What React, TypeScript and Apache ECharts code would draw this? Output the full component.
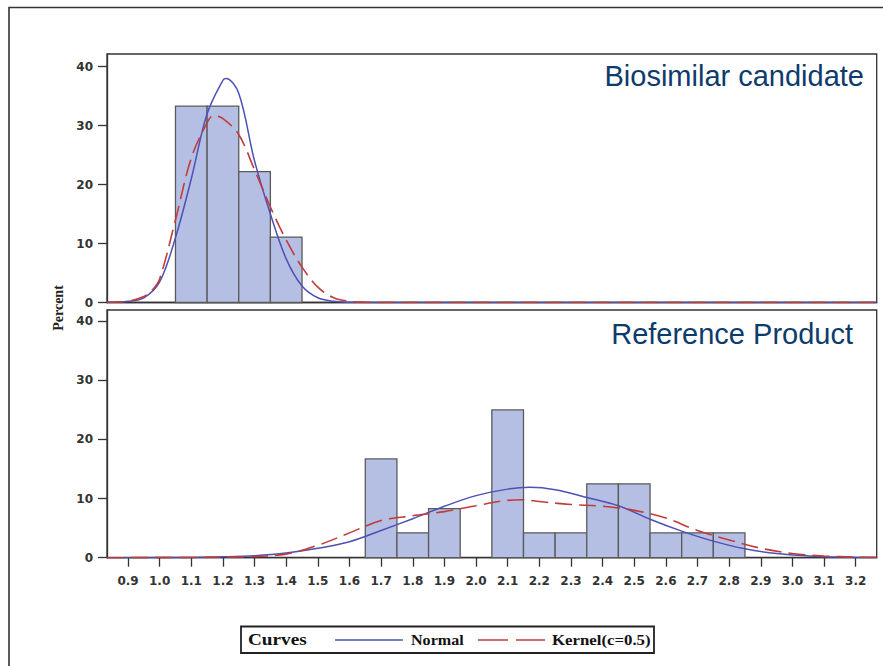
import React, { useEffect, useRef } from 'react';
import * as echarts from 'echarts';

// ---------- data ----------
const xTickValues = [0.9, 1.0, 1.1, 1.2, 1.3, 1.4, 1.5, 1.6, 1.7, 1.8, 1.9, 2.0, 2.1, 2.2, 2.3, 2.4, 2.5, 2.6, 2.7, 2.8, 2.9, 3.0, 3.1, 3.2];
const yTickValues = [0, 10, 20, 30, 40];
const BIN_WIDTH = 0.1;

const biosimilarBinMids = [1.1, 1.2, 1.3, 1.4];
const biosimilarPercent = [33.3, 33.3, 22.2, 11.1];

const referenceBinMids = [1.7, 1.8, 1.9, 2.0, 2.1, 2.2, 2.3, 2.4, 2.5, 2.6, 2.7, 2.8];
const referencePercent = [16.7, 4.2, 8.3, 0, 25, 4.2, 4.2, 12.5, 12.5, 4.2, 4.2, 4.2];

const biosimilarNormalX = [0.8336, 0.9, 0.95, 1.0, 1.05, 1.1, 1.15, 1.2, 1.21, 1.25, 1.3, 1.35, 1.4, 1.45, 1.5, 1.55, 1.6, 1.7, 3.2664];
const biosimilarNormalY = [0.05, 0.2, 0.8, 3.5, 11, 21, 32, 37.7, 38, 35.5, 24, 15, 7.4, 2.8, 0.8, 0.2, 0.05, 0, 0];

const biosimilarKernelX = [0.8336, 0.9, 0.95, 0.975, 1.0, 1.05, 1.1, 1.15, 1.17, 1.2, 1.25, 1.3, 1.35, 1.4, 1.45, 1.5, 1.55, 1.6, 1.65, 1.7, 3.2664];
const biosimilarKernelY = [0, 0.2, 1.0, 2.0, 4.0, 14, 24.5, 30.5, 31.7, 31.2, 28.5, 22.5, 16.2, 10.6, 6.0, 2.6, 0.8, 0.2, 0.05, 0, 0];

const referenceNormalX = [0.8336, 1.0, 1.1, 1.2, 1.3, 1.4, 1.5, 1.6, 1.7, 1.8, 1.9, 2.0, 2.1, 2.17, 2.25, 2.35, 2.45, 2.55, 2.65, 2.75, 2.85, 2.95, 3.05, 3.15, 3.2664];
const referenceNormalY = [0, 0.02, 0.05, 0.15, 0.35, 0.8, 1.6, 2.7, 4.6, 6.6, 8.7, 10.5, 11.6, 11.9, 11.5, 10.2, 8.8, 6.5, 4.5, 2.8, 1.5, 0.7, 0.3, 0.1, 0.02];

const referenceKernelX = [0.8336, 1.1, 1.2, 1.3, 1.4, 1.5, 1.6, 1.7, 1.8, 1.9, 2.0, 2.1, 2.15, 2.2, 2.3, 2.4, 2.5, 2.6, 2.7, 2.8, 2.9, 3.0, 3.1, 3.2, 3.2664];
const referenceKernelY = [0, 0.03, 0.08, 0.2, 0.6, 2.1, 4.2, 6.3, 7.1, 7.8, 8.8, 9.7, 9.8, 9.5, 9.0, 8.7, 8.0, 6.7, 4.6, 3.0, 1.6, 0.7, 0.3, 0.1, 0.03];

const panelTitles = ['Biosimilar candidate', 'Reference Product'];
const legendLabels = ['Curves', 'Normal', 'Kernel(c=0.5)'];

// ---------- styling ----------
const BAR_FILL = '#b4bfe3';
const BAR_STROKE = '#5a5a5a';
const NORMAL_COLOR = '#4d50b5';
const KERNEL_COLOR = '#c23b3b';
const AXIS_COLOR = '#333';
const TITLE_COLOR = '#0d3b6c';
const X_MIN = 0.8336;
const X_MAX = 3.2664;

const zip = (xs: number[], ys: number[]) => xs.map((x, i) => [x, ys[i]]);
const bins = (mids: number[], vals: number[]) =>
  mids.map((m, i) => [m - BIN_WIDTH / 2, m + BIN_WIDTH / 2, vals[i]]);

const renderBar = (params: any, api: any) => {
  const lo = api.value(0);
  const hi = api.value(1);
  const v = api.value(2);
  if (!v) return null;
  const p0 = api.coord([lo, v]);
  const p1 = api.coord([hi, 0]);
  return {
    type: 'rect',
    shape: { x: p0[0], y: p0[1], width: p1[0] - p0[0], height: p1[1] - p0[1] },
    style: { fill: BAR_FILL, stroke: BAR_STROKE, lineWidth: 1.3 },
  };
};

const labelFont = { fontFamily: 'DejaVu Sans', fontWeight: 'bold' as const, fontSize: 12, color: '#333' };

const makeYAxis = (gridIndex: number, max: number) => ({
  type: 'value',
  gridIndex,
  min: 0,
  max,
  axisLine: { show: true, lineStyle: { color: AXIS_COLOR, width: 1.3 } },
  axisTick: { show: true, length: 9, customValues: yTickValues, lineStyle: { color: AXIS_COLOR, width: 1.3 } },
  axisLabel: { ...labelFont, margin: 14, customValues: yTickValues, formatter: (v: number) => String(Math.round(v)) },
  splitLine: { show: false },
});

const lineSeries = (name: string, xs: number[], ys: number[], idx: number, dashed: boolean) => ({
  type: 'line',
  name,
  xAxisIndex: idx,
  yAxisIndex: idx,
  data: zip(xs, ys),
  smooth: 0.35,
  showSymbol: false,
  symbol: 'none',
  z: 5,
  lineStyle: dashed
    ? { color: KERNEL_COLOR, width: 1.6, type: [17, 7] }
    : { color: NORMAL_COLOR, width: 1.5 },
});

export default function App() {
  const ref = useRef<HTMLDivElement>(null);
  useEffect(() => {
    const chart = echarts.init(ref.current!, null, { renderer: 'svg' });
    const option: any = {
      animation: false,
      backgroundColor: '#fff',
      grid: [
        { left: 107, right: 6.3, top: 54, height: 248.5, show: true, borderColor: AXIS_COLOR, borderWidth: 1.3, containLabel: false },
        { left: 107, right: 6.3, top: 310, height: 247.7, show: true, borderColor: AXIS_COLOR, borderWidth: 1.3, containLabel: false },
      ],
      xAxis: [
        {
          type: 'value', gridIndex: 0, min: X_MIN, max: X_MAX,
          axisLine: { show: true, lineStyle: { color: AXIS_COLOR, width: 1.3 } },
          axisTick: { show: false }, axisLabel: { show: false }, splitLine: { show: false },
        },
        {
          type: 'value', gridIndex: 1, min: X_MIN, max: X_MAX,
          axisLine: { show: true, lineStyle: { color: AXIS_COLOR, width: 1.3 } },
          axisTick: { show: true, length: 9, customValues: xTickValues, lineStyle: { color: AXIS_COLOR, width: 1.3 } },
          axisLabel: { ...labelFont, margin: 17, customValues: xTickValues, formatter: (v: number) => v.toFixed(1) },
          splitLine: { show: false },
        },
      ],
      yAxis: [makeYAxis(0, 42.15), makeYAxis(1, 41.9)],
      series: [
        { type: 'custom', xAxisIndex: 0, yAxisIndex: 0, data: bins(biosimilarBinMids, biosimilarPercent), renderItem: renderBar, encode: { x: [0, 1], y: 2 }, z: 2 },
        { type: 'custom', xAxisIndex: 1, yAxisIndex: 1, data: bins(referenceBinMids, referencePercent), renderItem: renderBar, encode: { x: [0, 1], y: 2 }, z: 2 },
        lineSeries('Normal', biosimilarNormalX, biosimilarNormalY, 0, false),
        lineSeries('Kernel', biosimilarKernelX, biosimilarKernelY, 0, true),
        lineSeries('Normal', referenceNormalX, referenceNormalY, 1, false),
        lineSeries('Kernel', referenceKernelX, referenceKernelY, 1, true),
      ],
      graphic: [
        // outer frame (left + top)
        { type: 'polyline', z: 100, shape: { points: [[9, 666], [9, 7.5], [883, 7.5]] }, style: { stroke: '#333', lineWidth: 1.6, fill: 'none' } },
        // panel titles
        { type: 'text', z: 100, x: 864, y: 76, style: { text: panelTitles[0], fill: TITLE_COLOR, fontFamily: 'Liberation Sans', fontSize: 29, align: 'right', verticalAlign: 'middle' } },
        { type: 'text', z: 100, x: 853, y: 334, style: { text: panelTitles[1], fill: TITLE_COLOR, fontFamily: 'Liberation Sans', fontSize: 29, align: 'right', verticalAlign: 'middle' } },
        // y axis name
        { type: 'text', z: 100, x: 58, y: 308, rotation: Math.PI / 2, style: { text: 'Percent', fill: '#222', fontFamily: 'Liberation Serif', fontWeight: 'bold', fontSize: 14, align: 'center', verticalAlign: 'middle' } },
        // legend
        { type: 'rect', z: 100, shape: { x: 241, y: 626.5, width: 413, height: 26.5 }, style: { fill: '#fff', stroke: '#222', lineWidth: 1.8 } },
        { type: 'text', z: 101, x: 248, y: 640, scaleX: 1.2, style: { text: legendLabels[0], fill: '#111', fontFamily: 'Liberation Serif', fontWeight: 'bold', fontSize: 16, align: 'left', verticalAlign: 'middle' } },
        { type: 'line', z: 101, shape: { x1: 335, y1: 640, x2: 403, y2: 640 }, style: { stroke: NORMAL_COLOR, lineWidth: 1.5 } },
        { type: 'text', z: 101, x: 411, y: 640, scaleX: 1.15, style: { text: legendLabels[1], fill: '#111', fontFamily: 'Liberation Serif', fontWeight: 'bold', fontSize: 14, align: 'left', verticalAlign: 'middle' } },
        { type: 'line', z: 101, shape: { x1: 478, y1: 640, x2: 545, y2: 640 }, style: { stroke: KERNEL_COLOR, lineWidth: 1.6, lineDash: [30, 8] } },
        { type: 'text', z: 101, x: 552, y: 640, scaleX: 1.2, style: { text: legendLabels[2], fill: '#111', fontFamily: 'Liberation Serif', fontWeight: 'bold', fontSize: 14, align: 'left', verticalAlign: 'middle' } },
      ],
    };
    chart.setOption(option);
    return () => chart.dispose();
  }, []);
  return <div ref={ref} style={{ position: 'fixed', left: 0, top: 0, width: 883, height: 666, background: '#fff' }} />;
}
